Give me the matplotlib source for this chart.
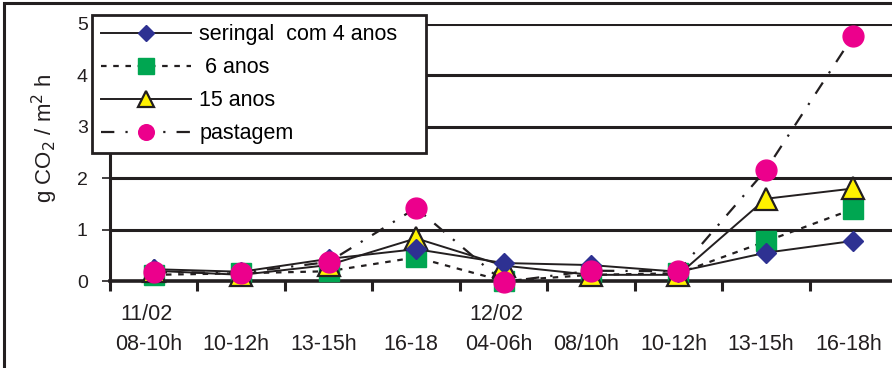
import matplotlib
matplotlib.use("Agg")
import matplotlib.pyplot as plt
from matplotlib.patches import Rectangle

plt.rcParams['font.family'] = ['Liberation Sans', 'DejaVu Sans']

categories = ["08-10h", "10-12h", "13-15h", "16-18", "04-06h", "08/10h", "10-12h", "13-15h", "16-18h"]
dates = {0: "11/02", 4: "12/02"}
seringal_4 = [0.23, 0.18, 0.43, 0.62, 0.35, 0.31, 0.18, 0.55, 0.78]
anos_6 = [0.12, 0.15, 0.19, 0.46, 0.00, 0.12, 0.15, 0.77, 1.40]
anos_15 = [0.20, 0.12, 0.31, 0.83, 0.30, 0.12, 0.12, 1.60, 1.80]
pastagem = [0.17, 0.16, 0.37, 1.42, -0.02, 0.20, 0.19, 2.16, 4.77]
labels = ["seringal  com 4 anos", " 6 anos", "15 anos", "pastagem"]
y_ticks = [0, 1, 2, 3, 4, 5]

W, H = 892, 368
fig = plt.figure(figsize=(W / 100, H / 100), dpi=100)
# figure frame (left & top visible)
fig.patches.append(Rectangle((4 / W, -0.1), 1.2, (H - 3) / H + 0.1, transform=fig.transFigure,
                             fill=False, edgecolor='#231f20', linewidth=2.2, zorder=0))

left, right = 110, 897
y0, y5 = 281, 24
ax = fig.add_axes([left / W, (H - y0) / H, (right - left) / W, (y0 - y5) / H])
x = list(range(len(categories)))

ax.set_xlim(-0.5, len(categories) - 0.5)
ax.set_ylim(0, 5)

for v in y_ticks[1:]:
    ax.axhline(v, color='#231f20', linewidth=2.2, zorder=1)

ax.plot(x, seringal_4, color='#231f20', lw=1.4, marker='D', ms=10.5, mfc='#2e3192', mec='#2e3192',
        label=labels[0], zorder=5, clip_on=False)
ax.plot(x, anos_6, color='#231f20', lw=1.6, ls=(0, (2.5, 3)), marker='s', ms=14.5, mfc='#00a651', mec='#00a651',
        label=labels[1], zorder=3, clip_on=False)
ax.plot(x, anos_15, color='#231f20', lw=1.4, marker='^', ms=16, mfc='#fff200', mec='#231f20', mew=1.6,
        label=labels[2], zorder=4, clip_on=False)
ax.plot(x, pastagem, color='#231f20', lw=1.6, ls=(0, (6, 5, 1, 5)), marker='o', ms=15, mfc='#ec008c', mec='#ec008c',
        label=labels[3], zorder=6, clip_on=False)

for s in ['top', 'right']:
    ax.spines[s].set_visible(False)
ax.spines['left'].set_linewidth(2.2)
ax.spines['bottom'].set_linewidth(2.6)
ax.spines['left'].set_color('#231f20')
ax.spines['bottom'].set_color('#231f20')

ax.set_yticks(y_ticks)
ax.set_yticklabels([str(v) for v in y_ticks], fontsize=14, color='#231f20')
ax.tick_params(axis='y', length=6, width=1.2, pad=10, color='#231f20')

ax.set_xticks([i - 0.5 for i in range(len(categories) + 1)])
ax.set_xticklabels([])
ax.tick_params(axis='x', length=7, width=2.2, direction='out', color='#231f20')

for i, c in enumerate(categories):
    ax.annotate(c, xy=(i, 0), xycoords=('data', 'axes fraction'), xytext=(-5, -64),
                textcoords='offset pixels', ha='center', va='center', fontsize=15.5, color='#231f20')
    if i in dates:
        ax.annotate(dates[i], xy=(i, 0), xycoords=('data', 'axes fraction'), xytext=(-7, -34),
                    textcoords='offset pixels', ha='center', va='center', fontsize=15.5, color='#231f20')

fig.text(45 / W, 1 - 138 / H, r"g CO$_2$ / m$^2$ h", rotation=90, ha='center', va='center',
         fontsize=16, color='#231f20')

leg = ax.legend(loc='upper left', bbox_to_anchor=(92 / W, 1 - 15 / H, 334 / W, 0.0),
                bbox_transform=fig.transFigure, mode='expand', fontsize=15.5, frameon=True,
                fancybox=False, framealpha=1, handlelength=4.2, handletextpad=0.37, borderpad=0.42,
                labelspacing=0.56, borderaxespad=0, markerscale=0.75)
leg.get_frame().set_edgecolor('#231f20')
leg.get_frame().set_linewidth(2.0)
leg.set_zorder(10)

fig.savefig("out.png", dpi=100)
